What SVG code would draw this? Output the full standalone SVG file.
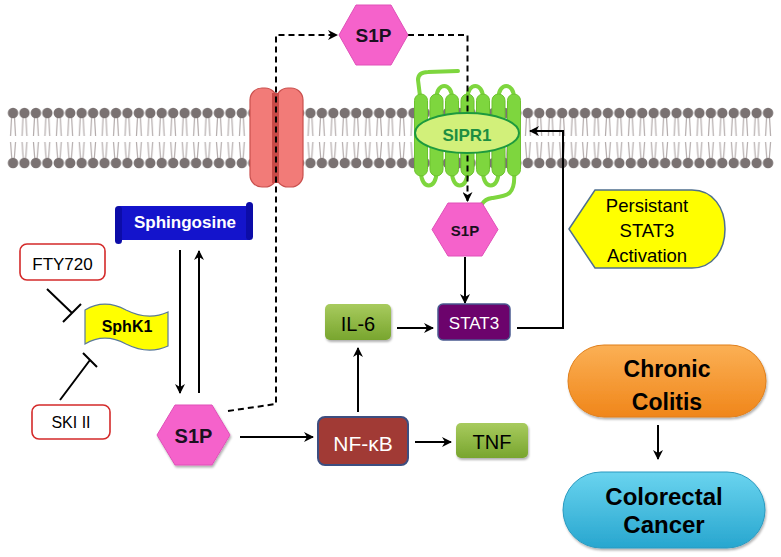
<svg xmlns="http://www.w3.org/2000/svg" width="781" height="557" viewBox="0 0 781 557">
<defs>
<style>
text{font-family:"Liberation Sans",Arial,sans-serif;text-anchor:middle}
.b{font-weight:bold}
.conn{fill:none;stroke:#000;stroke-width:2}
.dash{fill:none;stroke:#000;stroke-width:2;stroke-dasharray:6 4}
.hex{fill:#f562cb;stroke:#e050b8;stroke-width:1}
.green{fill:url(#gGreen)}
.helix{fill:#7ed63e;stroke:#6cc22e;stroke-width:1}
.loop{fill:none;stroke:#7ed63e;stroke-width:4;stroke-linecap:round}
.inh{fill:#fff;stroke:#d42a2a;stroke-width:1.6}
</style>
<linearGradient id="gGreen" x1="0" y1="0" x2="0" y2="1">
<stop offset="0" stop-color="#a8cb5e"/><stop offset="1" stop-color="#78a52e"/>
</linearGradient>
<linearGradient id="gOrange" x1="0" y1="0" x2="0" y2="1">
<stop offset="0" stop-color="#fbb055"/><stop offset="1" stop-color="#f0861a"/>
</linearGradient>
<linearGradient id="gBlue" x1="0" y1="0" x2="0" y2="1">
<stop offset="0" stop-color="#6ad4ef"/><stop offset="1" stop-color="#27a6cf"/>
</linearGradient>
<filter id="sh" x="-10%" y="-10%" width="130%" height="140%">
<feDropShadow dx="1" dy="2" stdDeviation="1.2" flood-color="#000" flood-opacity="0.3"/>
</filter>
<marker id="ar" viewBox="0 0 10 10" refX="9" refY="5" markerWidth="5" markerHeight="5" orient="auto" markerUnits="strokeWidth">
<path d="M0,0 L10,5 L0,10 L3,5 Z" fill="#000"/>
</marker>
<pattern id="lipid" x="7.3" y="0" width="11.44" height="557" patternUnits="userSpaceOnUse">
<g stroke="#b3abab" stroke-width="1.2" fill="none">
<path d="M4.3,118 L3.3,136 M7.2,118 L8.2,136 M3.3,142 L4.5,158 M8.2,142 L7,158"/>
</g>
<circle cx="5.72" cy="113" r="5.2" fill="#7a7272"/>
<circle cx="5.72" cy="163" r="5.2" fill="#7a7272"/>
</pattern>
</defs>
<rect width="781" height="557" fill="#fff"/>

<g id="membrane">
<rect x="7.3" y="105" width="766.5" height="66" fill="url(#lipid)"/>
</g>

<g id="channel">
<rect x="250" y="88" width="27" height="99" rx="12" fill="#f27b78" stroke="#c9504e" stroke-width="1.2"/>
<rect x="276" y="88" width="27" height="99" rx="12" fill="#f27b78" stroke="#c9504e" stroke-width="1.2"/>
<rect x="272" y="93" width="7" height="90" fill="#c84a48"/>
</g>

<g id="SIPR1-receptor">
<path class="loop" d="M420,96 L418,80 Q418,72 428,72 L458,71"/>
<path class="loop" d="M436.5,98 C436.5,82 452,82 452,98 M467.5,98 C467.5,82 483,82 483,98 M498.5,98 C498.5,82 514,82 514,98"/>
<path class="loop" d="M421,172 C421,190 436.5,190 436.5,172 M452,172 C452,190 467.5,190 467.5,172 M483,172 C483,190 498.5,190 498.5,172"/>
<path class="loop" d="M514,172 C516,196 506,196 492,198 Q485,199 482,204"/>
<rect class="helix" x="414.5" y="94" width="13" height="82" rx="6.5"/>
<rect class="helix" x="430" y="94" width="13" height="82" rx="6.5"/>
<rect class="helix" x="445.5" y="94" width="13" height="82" rx="6.5"/>
<rect class="helix" x="461" y="94" width="13" height="82" rx="6.5"/>
<rect class="helix" x="476.5" y="94" width="13" height="82" rx="6.5"/>
<rect class="helix" x="492" y="94" width="13" height="82" rx="6.5"/>
<rect class="helix" x="507.5" y="94" width="13" height="82" rx="6.5"/>
</g>

<g id="connectors">
<path class="dash" d="M228,411 L276,404 L276,35 L337,35" marker-end="url(#ar)"/>
<path class="dash" d="M408,35 L467.5,35 L467.5,201" marker-end="url(#ar)"/>
<path class="conn" d="M180,250 L180,393" marker-end="url(#ar)"/>
<path class="conn" d="M199,393 L199,251" marker-end="url(#ar)"/>
<path class="conn" d="M240,437 L313,437" marker-end="url(#ar)"/>
<path class="conn" d="M358,412 L358,348" marker-end="url(#ar)"/>
<path class="conn" d="M415,442 L451,442" marker-end="url(#ar)"/>
<path class="conn" d="M397,328 L433,328" marker-end="url(#ar)"/>
<path class="conn" d="M465,257 L465,303" marker-end="url(#ar)"/>
<path class="conn" d="M517,328 L563,328 L563,131 L530,131" marker-end="url(#ar)"/>
<path class="conn" d="M658,425 L658,459" stroke-width="1.6" marker-end="url(#ar)"/>
<path class="conn" d="M47,289 L72,313 M63,322 L81,304"/>
<path class="conn" d="M60,400 L90,360 M83,353 L97,367"/>
</g>

<g id="SIPR1">
<ellipse cx="467" cy="133" rx="52" ry="20" fill="#d2f07a" stroke="#1d9a3e" stroke-width="2"/>
<text x="467" y="141" class="b" font-size="17" fill="#1d8e42">SIPR1</text>
</g>

<g id="S1P-top">
<polygon class="hex" points="339,35 356,5 391,5 408,35 391,65 356,65"/>
<text x="373.5" y="42" class="b" font-size="19" fill="#1a1020">S1P</text>
</g>

<g id="S1P-receptor">
<polygon class="hex" points="432,229.5 448,203 482,203 498,229.5 482,256 448,256"/>
<text x="465" y="236" class="b" font-size="15" fill="#1a1020">S1P</text>
</g>

<g id="S1P-bottom">
<polygon class="hex" points="157,435 175,405 212,405 230,435 212,465 175,465" filter="url(#sh)"/>
<text x="193.5" y="443" class="b" font-size="20" fill="#1a1020">S1P</text>
</g>

<g id="Sphingosine">
<rect x="119" y="206" width="131" height="34" fill="#1414cc"/>
<rect x="115" y="206" width="7" height="38" rx="3.5" fill="#0c0ca8"/>
<rect x="246" y="202" width="7" height="38" rx="3.5" fill="#0c0ca8"/>
<text x="185" y="228" class="b" font-size="17" fill="#fff">Sphingosine</text>
</g>

<g id="SphK1">
<path d="M85,310 C100,301 113,303 126,310 C140,317 155,318 168,312 L168,346 C155,352 140,351 126,344 C113,337 100,335 85,344 Z" fill="#ffff00" stroke="#5a7a9a" stroke-width="1.2"/>
<text x="127" y="332" class="b" font-size="16" fill="#000">SphK1</text>
</g>

<g id="FTY720">
<rect class="inh" x="20" y="244" width="85" height="36" rx="7"/>
<text x="62.5" y="270" font-size="17" fill="#000">FTY720</text>
</g>

<g id="SKI-II">
<rect class="inh" x="32" y="405" width="78" height="34" rx="7"/>
<text x="71" y="428" font-size="16" fill="#000">SKI II</text>
</g>

<g id="IL-6">
<rect class="green" x="325" y="304" width="66" height="36" rx="5" filter="url(#sh)"/>
<text x="358" y="331" font-size="20" fill="#000">IL-6</text>
</g>

<g id="STAT3">
<rect x="438" y="304" width="72" height="36" rx="5" fill="#6c036c" stroke="#4a5a90" stroke-width="1.5"/>
<text x="474" y="329" font-size="17" fill="#fff">STAT3</text>
</g>

<g id="NF-kB">
<rect x="318" y="417" width="90" height="48" rx="7" fill="#a13a35" stroke="#3d4e80" stroke-width="2"/>
<text x="363" y="451" font-size="21" fill="#fff">NF-κB</text>
</g>

<g id="TNF">
<rect class="green" x="456" y="423" width="72" height="35" rx="5" filter="url(#sh)"/>
<text x="492" y="449" font-size="20" fill="#000">TNF</text>
</g>

<g id="Persistant">
<path d="M569,229 L595,190 L692,190 C713,190 725,208 725,229 C725,250 713,268 692,268 L595,268 Z" fill="#ffff00" stroke="#4f6f8f" stroke-width="1.5"/>
<text x="647" y="212" font-size="18.5" fill="#000">Persistant</text>
<text x="647" y="237" font-size="18.5" fill="#000">STAT3</text>
<text x="647" y="262" font-size="18.5" fill="#000">Activation</text>
</g>

<g id="Chronic-Colitis">
<rect x="568" y="345" width="198" height="72" rx="36" fill="url(#gOrange)" stroke="#e07f1a" stroke-width="1" filter="url(#sh)"/>
<text x="667" y="377" class="b" font-size="23" fill="#000">Chronic</text>
<text x="667" y="410" class="b" font-size="23" fill="#000">Colitis</text>
</g>

<g id="Colorectal-Cancer">
<rect x="563" y="472" width="202" height="76" rx="38" fill="url(#gBlue)" stroke="#2a9ac0" stroke-width="1" filter="url(#sh)"/>
<text x="664" y="505" class="b" font-size="24" fill="#000">Colorectal</text>
<text x="664" y="533" class="b" font-size="24" fill="#000">Cancer</text>
</g>
</svg>
